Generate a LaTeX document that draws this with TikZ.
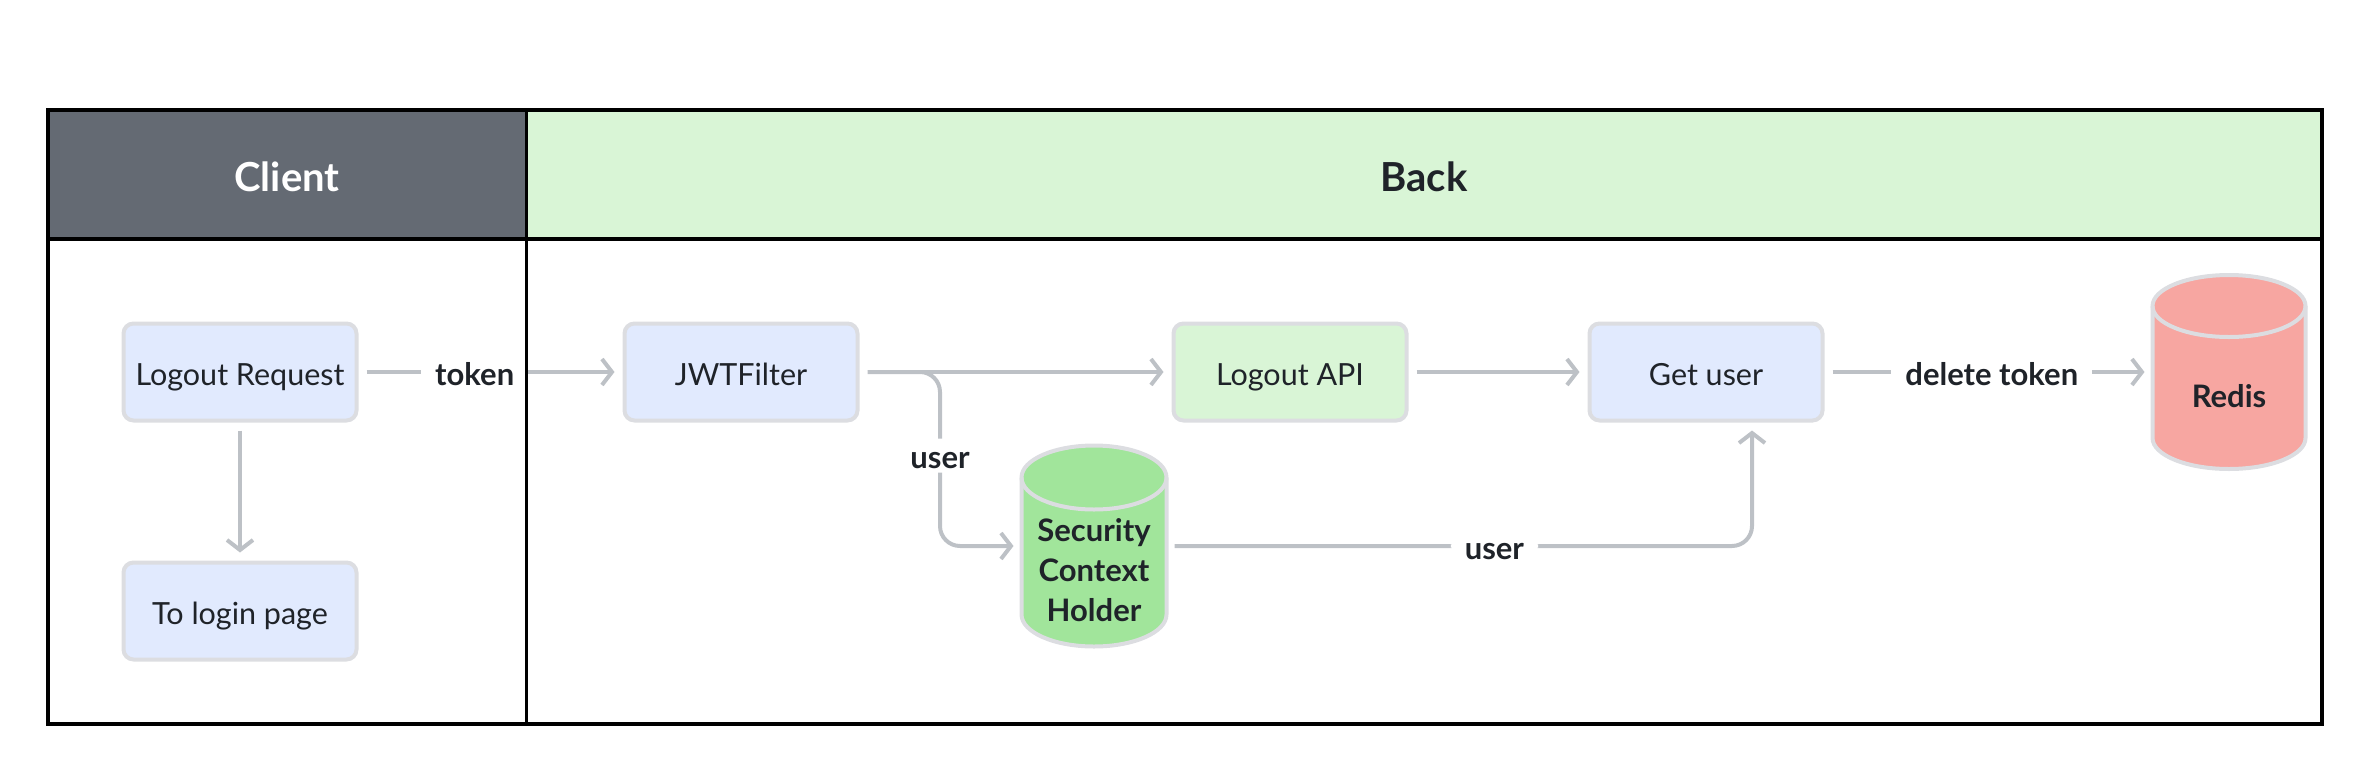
\documentclass[tikz,border=0pt]{standalone}
\usepackage{fontspec}
\setmainfont{Lato}
\usetikzlibrary{arrows.meta}

\definecolor{inkDark}{HTML}{1F2329}
\definecolor{hdDark}{HTML}{646A73}
\definecolor{hdGreen}{HTML}{D9F5D6}
\definecolor{boxLine}{HTML}{DCDDE1}
\definecolor{boxBlue}{HTML}{E1EAFE}
\definecolor{boxGreen}{HTML}{D9F5D6}
\definecolor{cylGreen}{HTML}{A1E59B}
\definecolor{cylRed}{HTML}{F7A6A1}
\definecolor{flowGray}{HTML}{BDC1C6}

\tikzset{every picture/.style={line width=4pt}}
\tikzset{
  hdtext/.style={font=\fontsize{40}{46}\selectfont\bfseries, text height=32pt, text depth=0pt},
  box/.style={draw=boxLine, fill=boxBlue, rounded corners=10pt, minimum width=233pt,
    minimum height=97pt, text=inkDark, text height=26pt, text depth=0pt,
    font=\fontsize{30.5}{36}\selectfont},
  dbase/.style={inner sep=0pt, outer sep=0pt},
  cylbody/.style={draw=boxLine},
  dbtext/.style={text=inkDark, align=center, font=\fontsize{31}{40}\selectfont\bfseries},
  flow/.style={draw=flowGray, -{Straight Barb[length=10pt,width=26pt]},
    shorten >=8pt, shorten <=8pt},
  lbl/.style={fill=white, text=inkDark, inner xsep=14pt, inner ysep=4pt,
    text height=26pt, text depth=0pt, font=\fontsize{31}{36}\selectfont\bfseries}
}

\begin{document}
\begin{tikzpicture}[x=1pt,y=1pt,yscale=-1,xscale=1]
\useasboundingbox (0,0) rectangle (2370,774);

%Shape: Rectangle
\fill [hdDark] (48,110) rectangle (526,239);
%Shape: Rectangle
\fill [hdGreen] (526,110) rectangle (2322,239);
% Text Node
\node [hdtext, text=white] (client) at (287,175) {Client};
% Text Node
\node [hdtext, text=inkDark] (back) at (1424,175) {Back};

% Boxes
\node [box] (logoutReq) at (240,372) {Logout Request};
\node [box] (toLogin) at (240,611) {To login page};
\node [box] (jwtFilter) at (741,372) {JWTFilter};
\node [box, fill=boxGreen] (logoutApi) at (1290,372) {Logout API};
\node [box] (getUser) at (1706,372) {Get user};

%Shape: Can
\node [dbase, minimum width=145pt, minimum height=201pt] (secHolder) at (1094,546) {};
\filldraw [cylbody, fill=cylGreen] (secHolder.north west) ++(0,32) -- ++(0,137)
  arc [start angle=180, end angle=0, x radius=72.5, y radius=32] -- ++(0,-137)
  arc [start angle=0, end angle=-180, x radius=72.5, y radius=32] -- cycle;
\draw [cylbody] (secHolder.north west) ++(0,32) arc [start angle=180, end angle=0, x radius=72.5, y radius=32];
\node [dbtext] (secText) at (1094,570) {Security\\Context\\Holder};

%Shape: Can
\node [dbase, minimum width=153pt, minimum height=194pt] (redis) at (2229,372) {};
\filldraw [cylbody, fill=cylRed] (redis.north west) ++(0,31) -- ++(0,132)
  arc [start angle=180, end angle=0, x radius=76.5, y radius=31] -- ++(0,-132)
  arc [start angle=0, end angle=-180, x radius=76.5, y radius=31] -- cycle;
\draw [cylbody] (redis.north west) ++(0,31) arc [start angle=180, end angle=0, x radius=76.5, y radius=31];
\node [dbtext] (redisText) at (2229,396) {Redis};

\coordinate (split) at (940,372);

% Connectors
\draw [flow] (logoutReq) -- node [lbl, pos=0.44] {token} (jwtFilter);
\draw [flow] (logoutReq) -- (toLogin);
\draw [flow] (jwtFilter) -- (logoutApi);
\draw [flow, rounded corners=20pt] (jwtFilter) -- (split) |- node [lbl, pos=0.24] {user} (secHolder);
\draw [flow] (logoutApi) -- (getUser);
\draw [flow, rounded corners=20pt] (secHolder) -| node [lbl, pos=0.28] {user} ([xshift=46pt]getUser.south);
\draw [flow] (getUser) -- node [lbl, pos=0.51] {delete token} (redis);

%Shape: Rectangle (frame)
\draw [line width=4pt] (48,110) rectangle (2322,724);
%Straight Lines
\draw [line width=4pt] (48,239) -- (2322,239);
%Straight Lines
\draw [line width=3pt] (526,110) -- (526,724);
\end{tikzpicture}
\end{document}
